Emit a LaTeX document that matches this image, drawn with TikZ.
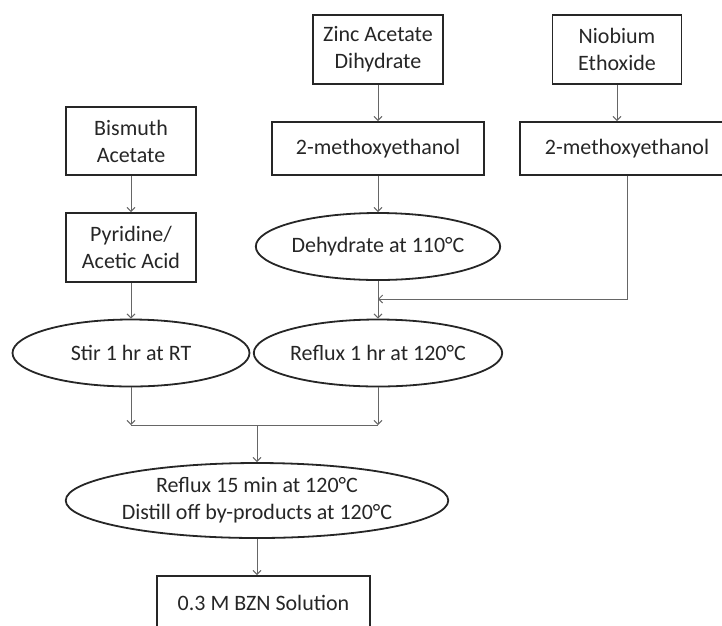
\documentclass[tikz,border=0pt]{standalone}
\usepackage{fontspec}
\setmainfont{Carlito}
\usetikzlibrary{arrows.meta, positioning, shapes.geometric}

\begin{document}
\begin{tikzpicture}[x=1pt,y=-1pt,-{Straight Barb[length=4pt,width=8pt]},draw=black!60,line width=1pt]
\tikzstyle{base}=[draw=black!85,line width=1.8pt,text=black!85,font=\fontsize{22}{27}\selectfont,align=center,inner sep=0pt]
\tikzstyle{box}=[base,rectangle]
\tikzstyle{proc}=[base,ellipse,minimum width=237pt,minimum height=67pt]

\useasboundingbox (0,0) rectangle (722,625);
\clip (0,0) rectangle (722,625);

% Draw the starting material boxes
\node[box,minimum width=130pt,minimum height=69pt] (zinc) at (378,49.5) {Zinc Acetate\\Dihydrate};
\node[box,minimum width=129pt,minimum height=69pt] (niob) at (617,49.5) {Niobium\\Ethoxide};
\node[box,minimum width=130pt,minimum height=68pt] (bism) at (131,141) {Bismuth\\Acetate};

% Draw the solvent boxes
\node[box,minimum width=212pt,minimum height=53pt] (meth1) at (378,148.5) {2-methoxyethanol};
\node[box,minimum width=214pt,minimum height=53pt] (meth2) at (627,148.5) {2-methoxyethanol};
\node[box,minimum width=130pt,minimum height=69pt] (pyr) at (131,247.5) {Pyridine/\\Acetic Acid};

% Draw the process steps
\node[proc] (dehyd) at (378,246.5) {Dehydrate at 110°C};
\node[proc] (stir) at (131,353) {Stir 1 hr at RT};
\node[proc] (reflux) at (378,353) {Reflux 1 hr at 120°C};
\node[proc,minimum width=356pt,minimum height=75pt] (final) at (257,500.5) {Reflux 15 min at 120°C\\Distill off by-products at 120°C};

% Draw the product box
\node[box,minimum width=213pt,minimum height=54pt] (bzn) at (263.5,603) {0.3 M BZN Solution};

% Connect each precursor with its solvent
\draw (zinc) -- (meth1);
\draw (niob.south) -- (niob.south |- meth2.north);
\draw (bism) -- (pyr);
\draw (meth1) -- (dehyd);
\draw (pyr) -- (stir);

% Bring the niobium solution into the zinc line
\coordinate (mix) at (378,299);
\draw (meth2.south) |- (mix);
\draw (dehyd) -- (reflux);

% Merge both solutions
\coordinate (merge) at (257,425);
\draw (stir.south) -- (stir.south |- merge);
\draw (reflux.south) -- (reflux.south |- merge);
\draw[-] (stir.south |- merge) -- (reflux.south |- merge);
\draw (merge) -- (final);
\draw (final) -- (final |- bzn.north);

\end{tikzpicture}
\end{document}
